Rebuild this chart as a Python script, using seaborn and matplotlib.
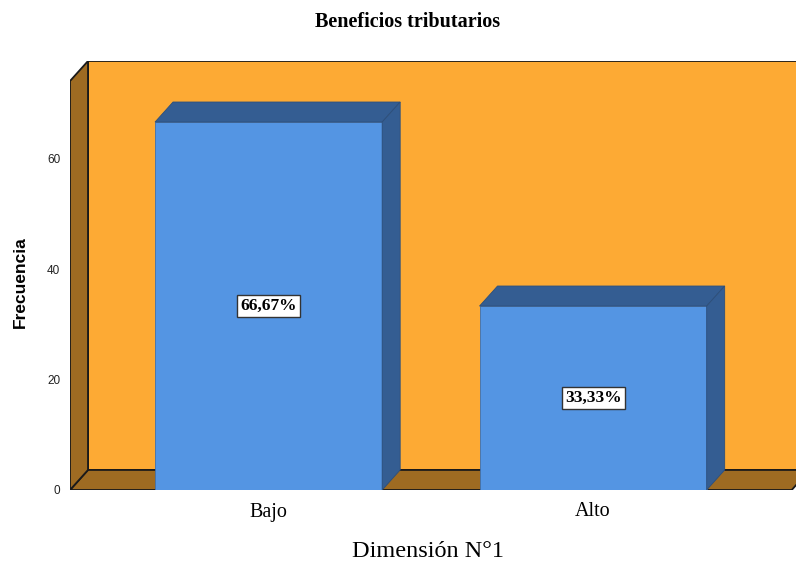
import matplotlib
matplotlib.use("Agg")
import matplotlib.pyplot as plt
from matplotlib.patches import Polygon
import seaborn as sns
import pandas as pd

# Data
categories = ["Bajo", "Alto"]
frecuencia = [66.67, 33.33]
porcentajes = ["66,67%", "33,33%"]
y_ticks = [0, 20, 40, 60]

# Colours
wall_orange = "#FDAA34"
floor_brown = "#9E6B22"
bar_front = "#5495E3"
bar_shade = "#345D92"

sns.set_theme(style="white")
plt.rcParams["font.family"] = ["Liberation Sans", "DejaVu Sans"]

df = pd.DataFrame({"categoria": categories, "frecuencia": frecuencia})

fig = plt.figure(figsize=(7.96, 5.62), dpi=100)
ax = fig.add_axes([70 / 796, 72 / 562, 726 / 796, 429 / 562])

# front plane extent (data units) and depth offset of the 3-D box
x0, x1 = -0.612, 1.612
y_top = 74.1
dx, dy = 0.0555, 3.63

edge_kw = dict(edgecolor="#1a1a1a", linewidth=1.3, joinstyle="miter")

# back wall, floor and left wall
ax.add_patch(Polygon([(x0 + dx, dy), (x1 + 2, dy), (x1 + 2, y_top + dy), (x0 + dx, y_top + dy)],
                     closed=True, facecolor=wall_orange, zorder=0.5, **edge_kw))
ax.add_patch(Polygon([(x0, 0), (x1, 0), (x1 + dx, dy), (x0 + dx, dy)],
                     closed=True, facecolor=floor_brown, zorder=0.6, **edge_kw))
ax.add_patch(Polygon([(x0, 0), (x0 + dx, dy), (x0 + dx, y_top + dy), (x0, y_top)],
                     closed=True, facecolor=floor_brown, zorder=0.6, **edge_kw))

sns.barplot(data=df, x="categoria", y="frecuencia", width=0.7, color=bar_front,
            saturation=1, edgecolor="#3f70ad", linewidth=0.6, ax=ax, zorder=2)

# depth faces for each bar and value labels
for patch, txt in zip(ax.patches[3:], porcentajes):
    bx, bw, bh = patch.get_x(), patch.get_width(), patch.get_height()
    top = Polygon([(bx, bh), (bx + bw, bh), (bx + bw + dx, bh + dy), (bx + dx, bh + dy)],
                  closed=True, facecolor=bar_shade, edgecolor="#2c4f7c", linewidth=0.6, zorder=2.1)
    side = Polygon([(bx + bw, 0), (bx + bw + dx, dy), (bx + bw + dx, bh + dy), (bx + bw, bh)],
                   closed=True, facecolor=bar_shade, edgecolor="#2c4f7c", linewidth=0.6, zorder=2.1)
    ax.add_patch(top)
    ax.add_patch(side)
    ax.text(bx + bw / 2, bh / 2, txt, ha="center", va="center", fontsize=12.5,
            fontweight="bold", family="Liberation Serif", color="black", zorder=3,
            bbox=dict(boxstyle="square,pad=0.18", facecolor="white", edgecolor="#333333", linewidth=1))

# limits after the barplot, which resets the categorical range
ax.set_xlim(x0, x0 + 726 / 324.5)
ax.set_ylim(0, y_top + dy)

for s in ax.spines.values():
    s.set_visible(False)

ax.set_yticks(y_ticks)
ax.set_yticklabels([str(v) for v in y_ticks], fontsize=8.5, color="#222222")
ax.tick_params(axis="both", length=0)
ax.tick_params(axis="y", pad=7)
ax.tick_params(axis="x", pad=9)
for lab in ax.get_xticklabels():
    lab.set_family("Liberation Serif")
    lab.set_fontsize(14.5)
    lab.set_color("black")

ax.set_xlabel("Dimensión N°1", family="Liberation Serif", fontsize=17.5, color="black")
ax.xaxis.set_label_coords(0.493, -0.118)
ax.set_ylabel("Frecuencia", fontsize=12.5, fontweight="bold", color="black")
ax.yaxis.set_label_coords(-0.058, 0.484)

fig.text(408 / 796, 1 - 22 / 562, "Beneficios tributarios", ha="center", va="center",
         family="Liberation Serif", fontweight="bold", fontsize=14.5, color="black")

fig.savefig("out.png", dpi=100, facecolor="white")
